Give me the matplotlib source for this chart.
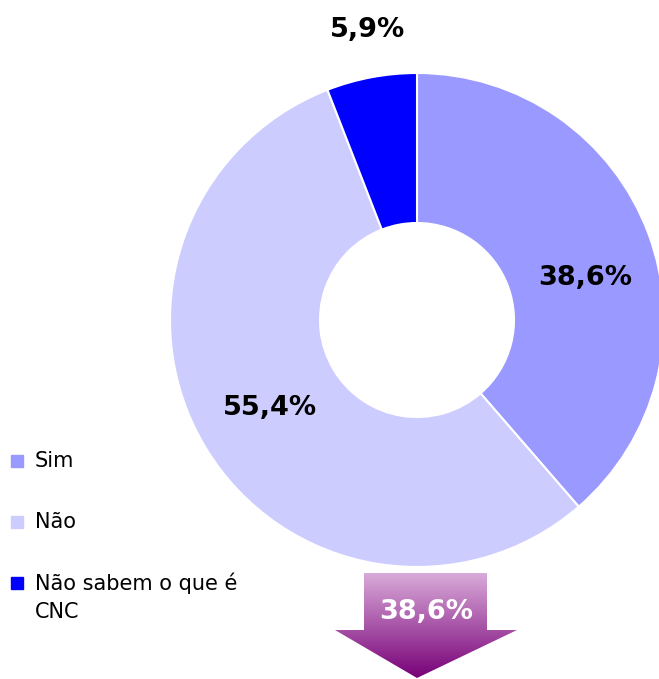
import numpy as np
import matplotlib.pyplot as plt
from matplotlib.patches import Polygon, Rectangle

labels = ['Sim', 'Não', 'Não sabem o que é\nCNC']
values = [38.6, 55.4, 5.9]
colors = ['#9999FF', '#CCCCFF', '#0000FF']
value_text = ['38,6%', '55,4%', '5,9%']
arrow_text = '38,6%'

W, H = 659, 679
fig = plt.figure(figsize=(W / 100, H / 100), dpi=100)
ax = fig.add_axes([0, 0, 1, 1])

# donut (pixel coords, y measured from bottom)
cx, cy, r_out, r_in = 417, H - 320, 247, 97
ax.pie(values, colors=colors, startangle=90, counterclock=False,
       center=(cx, cy), radius=r_out, frame=True,
       wedgeprops=dict(width=r_out - r_in, edgecolor='white', linewidth=1.5))
ax.set_xlim(0, W)
ax.set_ylim(0, H)
ax.set_aspect('equal')
ax.axis('off')

label_pos = [(585, 278), (270, 408), (368, 30)]
for (px, py), t in zip(label_pos, value_text):
    ax.text(px, H - py, t, ha='center', va='center', fontsize=19.5,
            fontweight='bold', color='black')

# legend
leg_y = [461, 522, 583]
for y, lab, c in zip(leg_y, labels, colors):
    ax.add_patch(Rectangle((11, H - y - 6), 12, 12, color=c))
    ax.text(35, H - y + 10, lab, ha='left', va='top', fontsize=15,
            color='black', linespacing=1.5)

# gradient arrow
arrow_pts = [(364, 573), (487, 573), (487, 630), (517, 630), (417, 678),
             (335, 630), (364, 630)]
poly = Polygon([(x, H - y) for x, y in arrow_pts], closed=True,
               facecolor='none', edgecolor='none')
ax.add_patch(poly)
grad = np.linspace(0, 1, 256).reshape(-1, 1)
top = np.array([0.85, 0.67, 0.85])
bot = np.array([0.47, 0.0, 0.47])
img = top + (bot - top) * grad[:, :, None]
im = ax.imshow(img, extent=(335, 517, H - 678, H - 573), origin='upper',
               aspect='auto', zorder=2)
im.set_clip_path(poly)
ax.text(426, H - 612, arrow_text, ha='center', va='center', fontsize=19.5,
        fontweight='bold', color='white', zorder=3)

fig.savefig('out.png', dpi=100)
